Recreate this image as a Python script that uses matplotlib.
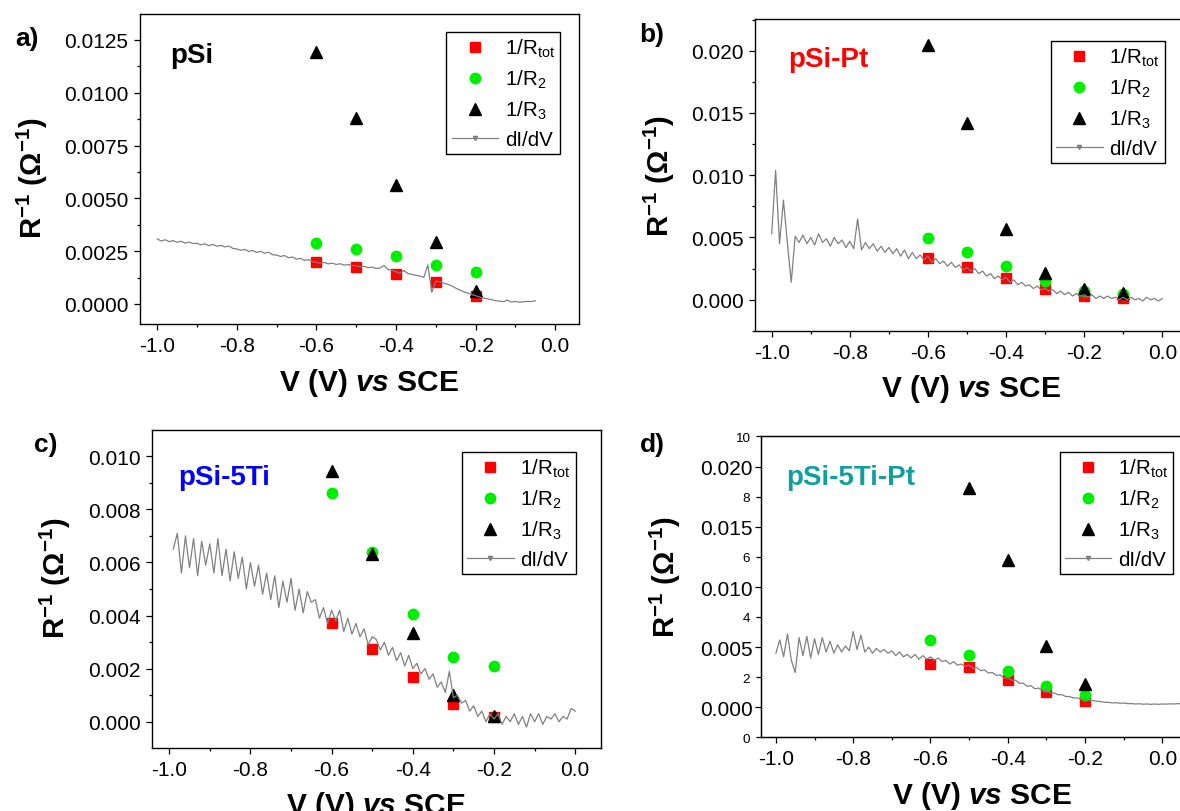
import numpy as np
import matplotlib
matplotlib.use('Agg')
import matplotlib.pyplot as plt
from matplotlib.lines import Line2D
from matplotlib.ticker import MultipleLocator, FormatStrFormatter

plt.rcParams['font.family'] = 'Liberation Sans'
plt.rcParams['mathtext.fontset'] = 'custom'
plt.rcParams['mathtext.rm'] = 'Liberation Sans'
plt.rcParams['mathtext.bf'] = 'Liberation Sans:bold'
plt.rcParams['mathtext.it'] = 'Liberation Sans:italic:bold'
plt.rcParams['axes.unicode_minus'] = False

# ---- data (conductances in 1/Ohm, curves typed in units of 1e-3 1/Ohm) ----
v_a = [-0.6, -0.5, -0.4, -0.3, -0.2]
rtot_a = [0.00197, 0.00177, 0.00142, 0.00103, 0.00039]
r2_a = [0.00287, 0.00259, 0.00227, 0.00183, 0.00152]
r3_a = [0.01192, 0.00881, 0.00565, 0.00292, 0.00063]
didv_a_range = (-1.00, -0.05)
didv_a = [3.08, 2.98, 3.04, 2.95, 3.00, 2.92, 2.97, 2.88, 2.93, 2.86,
          2.87, 2.80, 2.85, 2.76, 2.82, 2.73, 2.78, 2.70, 2.74, 2.63,
          2.60, 2.54, 2.58, 2.49, 2.53, 2.44, 2.49, 2.40, 2.45, 2.33,
          2.31, 2.25, 2.29, 2.19, 2.22, 2.12, 2.16, 2.06, 2.10, 2.01,
          1.97, 1.93, 1.96, 1.90, 1.93, 1.87, 1.90, 1.84, 1.86, 1.82,
          1.81, 1.76, 1.78, 1.72, 1.74, 1.68, 1.70, 1.82, 1.63, 1.60,
          1.52, 1.46, 1.58, 1.44, 1.40, 1.36, 1.32, 1.26, 1.85, 0.55,
          1.08, 1.05, 0.98, 0.93, 0.86, 0.75, 0.66, 0.58, 0.52, 0.45,
          0.39, 0.33, 0.28, 0.24, 0.20, 0.16, 0.13, 0.11, 0.18, 0.09,
          0.12, 0.08, 0.10, 0.12, 0.11, 0.15]

v_b = [-0.6, -0.5, -0.4, -0.3, -0.2, -0.1]
rtot_b = [0.00335, 0.00265, 0.00172, 0.00086, 0.00027, 0.00011]
r2_b = [0.00496, 0.00380, 0.00273, 0.00150, 0.00067, 0.00046]
r3_b = [0.02048, 0.01417, 0.00568, 0.00212, 0.00083, 0.00054]
didv_b_range = (-1.00, 0.00)
didv_b = [5.3, 10.4, 4.5, 8.0, 4.6, 1.4, 5.1, 4.6, 5.2, 4.5,
          5.0, 4.4, 5.3, 4.6, 4.9, 4.3, 5.0, 4.5, 4.8, 4.2,
          4.7, 4.1, 6.5, 4.0, 4.6, 4.1, 4.5, 3.9, 4.3, 3.8,
          4.2, 3.7, 4.1, 3.5, 4.0, 3.3, 3.8, 3.3, 3.6, 3.2,
          3.5, 3.0, 3.3, 2.9, 3.1, 2.7, 3.0, 2.6, 2.8, 2.4,
          2.6, 2.3, 2.5, 2.1, 2.3, 1.9, 2.1, 1.7, 1.9, 1.6,
          1.8, 1.4, 1.6, 1.2, 1.4, 1.1, 1.2, 0.9, 1.1, 0.8,
          0.9, 0.7, 0.8, 0.5, 0.7, 0.4, 0.6, 0.3, 0.5, 0.3,
          0.4, 0.2, 0.4, 0.1, 0.3, 0.1, 0.3, 0.1, 0.2, 0.0,
          0.2, 0.0, 0.2, 0.0, 0.1, -0.1, 0.2, 0.0, 0.1, -0.1,
          0.1]

v_c = [-0.6, -0.5, -0.4, -0.3, -0.2]
rtot_c = [0.00372, 0.00274, 0.00167, 0.00067, 0.00017]
r2_c = [0.00860, 0.00638, 0.00406, 0.00245, 0.00211]
r3_c = [0.00946, 0.00632, 0.00333, 0.00102, 0.00020]
didv_c_range = (-0.99, 0.00)
didv_c = [6.5, 7.1, 5.6, 7.0, 5.8, 6.9, 5.5, 6.8, 5.9, 6.7,
          5.6, 6.9, 5.5, 6.5, 5.3, 6.4, 5.4, 6.2, 5.0, 6.0,
          5.1, 5.9, 4.8, 5.6, 4.6, 5.5, 4.3, 5.3, 4.5, 5.4,
          4.2, 5.0, 4.1, 4.9, 4.5, 4.6, 3.9, 4.3, 3.7, 4.2,
          3.8, 4.2, 3.4, 3.9, 3.3, 3.7, 3.2, 3.5, 2.9, 3.2,
          3.1, 2.7, 3.0, 2.5, 2.8, 2.3, 2.6, 2.1, 2.5, 2.0,
          2.2, 1.8, 2.0, 1.6, 1.8, 1.3, 1.5, 1.1, 1.9, 0.9,
          1.0, 0.7, 0.8, 0.4, 0.6, 0.2, 0.4, 0.0, 0.3, 0.1,
          0.3, -0.1, 0.2, 0.0, 0.3, -0.1, 0.2, -0.2, 0.3, 0.0,
          0.3, -0.1, 0.2, 0.1, 0.3, 0.0, 0.2, 0.1, 0.5, 0.4]

v_d = [-0.6, -0.5, -0.4, -0.3, -0.2]
v_d3 = [-0.5, -0.4, -0.3, -0.2]
rtot_d = [0.00360, 0.00332, 0.00227, 0.00125, 0.00055]
r2_d = [0.00560, 0.00437, 0.00305, 0.00180, 0.00102]
r3_d = [0.01820, 0.01227, 0.00512, 0.00194]
didv_d_range = (-1.00, 0.10)
didv_d = [4.5, 5.6, 4.2, 6.1, 3.9, 2.9, 5.8, 4.3, 5.9, 4.1,
          5.7, 4.4, 5.8, 4.6, 5.5, 4.5, 5.2, 4.6, 5.1, 4.7,
          6.3, 4.8, 6.0, 4.6, 5.0, 4.5, 4.9, 4.6, 4.8, 4.5,
          4.7, 4.3, 4.6, 4.2, 4.4, 4.1, 4.4, 4.0, 4.3, 4.0,
          4.2, 3.9, 4.1, 3.8, 3.9, 3.6, 3.8, 3.5, 3.6, 3.4,
          3.5, 3.25, 3.3, 3.05, 3.1, 2.85, 2.9, 2.65, 2.7, 2.45,
          2.45, 2.25, 2.25, 2.0, 2.0, 1.75, 1.8, 1.55, 1.6, 1.38,
          1.4, 1.2, 1.2, 1.05, 1.05, 0.9, 0.9, 0.78, 0.78, 0.68,
          0.68, 0.58, 0.57, 0.5, 0.48, 0.42, 0.42, 0.37, 0.38, 0.34,
          0.36, 0.31, 0.31, 0.28, 0.3, 0.26, 0.28, 0.25, 0.28, 0.25,
          0.28, 0.27, 0.29, 0.28, 0.31, 0.29, 0.32, 0.30, 0.33, 0.31, 0.34]

W, H = 1180, 812
fig = plt.figure(figsize=(W / 100, H / 100), dpi=100)


def box(left, top, right, bottom):
    return [left / W, 1 - bottom / H, (right - left) / W, (bottom - top) / H]


def panel(rect, xlim, ylim, ymajor, yminor, yfmt, v, rtot, r2, v3, r3, crange, curve,
          leg_xy, ylab_xy, xlab_xy, yminor_on=True, ypad=4):
    ax = fig.add_axes(rect)
    ax.plot(v, rtot, 's', color='#ff0000', ms=7, mec='#ff0000', zorder=3)
    ax.plot(v, r2, 'o', color='#00ee00', ms=7.5, mec='#00ee00', zorder=3)
    ax.plot(v3, r3, '^', color='black', ms=8, zorder=3)
    xs = np.linspace(crange[0], crange[1], len(curve))
    ax.plot(xs, np.array(curve) * 1e-3, '-', color='#808080', lw=0.9, zorder=4)
    ax.set_xlim(*xlim)
    ax.set_ylim(*ylim)
    ax.xaxis.set_major_locator(MultipleLocator(0.2))
    ax.xaxis.set_minor_locator(MultipleLocator(0.1))
    ax.xaxis.set_major_formatter(FormatStrFormatter('%.1f'))
    ax.yaxis.set_major_locator(MultipleLocator(ymajor))
    if yminor_on:
        ax.yaxis.set_minor_locator(MultipleLocator(yminor))
    ax.yaxis.set_major_formatter(FormatStrFormatter(yfmt))
    ax.tick_params(which='major', direction='out', length=4.3, width=0.9,
                   labelsize=15)
    ax.tick_params(axis='x', which='major', pad=4)
    ax.tick_params(axis='y', which='major', pad=ypad)
    ax.tick_params(which='minor', direction='out', length=2.5, width=0.9)
    for s in ax.spines.values():
        s.set_linewidth(1.0)
    ax.set_ylabel(r'$\mathbf{R^{-1}\ (\Omega^{-1})}$', fontsize=21)
    ax.yaxis.set_label_coords(*ylab_xy)
    ax.set_xlabel(r'V (V) $\mathit{vs}$ SCE', fontsize=21.5, fontweight='bold')
    ax.xaxis.set_label_coords(*xlab_xy)
    handles = [Line2D([], [], ls='none', marker='s', color='#ff0000', ms=7),
               Line2D([], [], ls='none', marker='o', color='#00ee00', ms=7.5),
               Line2D([], [], ls='none', marker='^', color='black', ms=8),
               Line2D([], [], ls='-', color='#808080', lw=0.9, marker='v', ms=3)]
    labels = [r'1/R$_{\mathrm{tot}}$', r'1/R$_{2}$', r'1/R$_{3}$', 'dI/dV']
    leg = ax.legend(handles, labels, loc='upper right',
                    bbox_to_anchor=(leg_xy[0] / W, 1 - leg_xy[1] / H),
                    bbox_transform=fig.transFigure, fontsize=14.8, frameon=True,
                    fancybox=False, framealpha=1, edgecolor='black',
                    handlelength=2.26, handletextpad=0.33, labelspacing=0.42,
                    borderpad=0.25, borderaxespad=0)
    leg.get_frame().set_linewidth(1.0)
    return ax


# a) pSi
panel(box(140, 15, 579.3, 325), (-1.0432, 0.0606), (-0.00095, 0.01373), 0.0025, 0.00125, '%.4f',
      v_a, rtot_a, r2_a, v_a, r3_a, didv_a_range, didv_a,
      (560, 33), (-0.205, 0.474), (0.521, -0.135))

# b) pSi-Pt
panel(box(755, 20, 1185.7, 332), (-1.0428, 0.06), (-0.00251, 0.02255), 0.005, 0.0025, '%.3f',
      v_b, rtot_b, r2_b, v_b, r3_b, didv_b_range, didv_b,
      (1164.5, 42), (-0.181, 0.5), (0.502, -0.131))

# c) pSi-5Ti
panel(box(152.4, 431, 600.5, 749), (-1.0414, 0.0623), (-0.00099, 0.01099), 0.002, 0.001, '%.3f',
      v_c, rtot_c, r2_c, v_c, r3_c, didv_c_range, didv_c,
      (575.6, 453), (-0.178, 0.538), (0.499, -0.129))

# d) pSi-5Ti-Pt, with the stray 0-10 scale on the same side
axd = panel(box(761, 437.3, 1185.6, 738.3), (-1.0385, 0.06), (-0.00249, 0.02253), 0.005, 0.0025, '%.3f',
            v_d, rtot_d, r2_d, v_d3, r3_d, didv_d_range, didv_d,
            (1173.2, 453), (-0.184, 0.534), (0.520, -0.139), yminor_on=False, ypad=1.5)
ax2 = axd.twinx()
ax2.set_ylim(0, 10)
ax2.set_yticks([0, 2, 4, 6, 8, 10])
ax2.yaxis.tick_left()
ax2.tick_params(direction='out', length=3.6, width=0.9, labelsize=9.7, pad=4.3)

# panel letters and sample names
for txt, x, y in [('a)', 15, 39), ('b)', 639, 35), ('c)', 34, 445), ('d)', 640, 445)]:
    fig.text(x / W, 1 - y / H, txt, fontsize=19, fontweight='bold', va='center', ha='left')
for (txt, x, y), c in zip([('pSi', 170, 63), ('pSi-Pt', 788, 66.7), ('pSi-5Ti', 178.7, 485),
                           ('pSi-5Ti-Pt', 786.4, 485)],
                          ['black', '#ff0000', '#0000ff', '#119e9e']):
    fig.text(x / W, 1 - y / H, txt, fontsize=20, fontweight='bold', color=c,
             va='baseline', ha='left')

fig.savefig('out.png', dpi=100)
